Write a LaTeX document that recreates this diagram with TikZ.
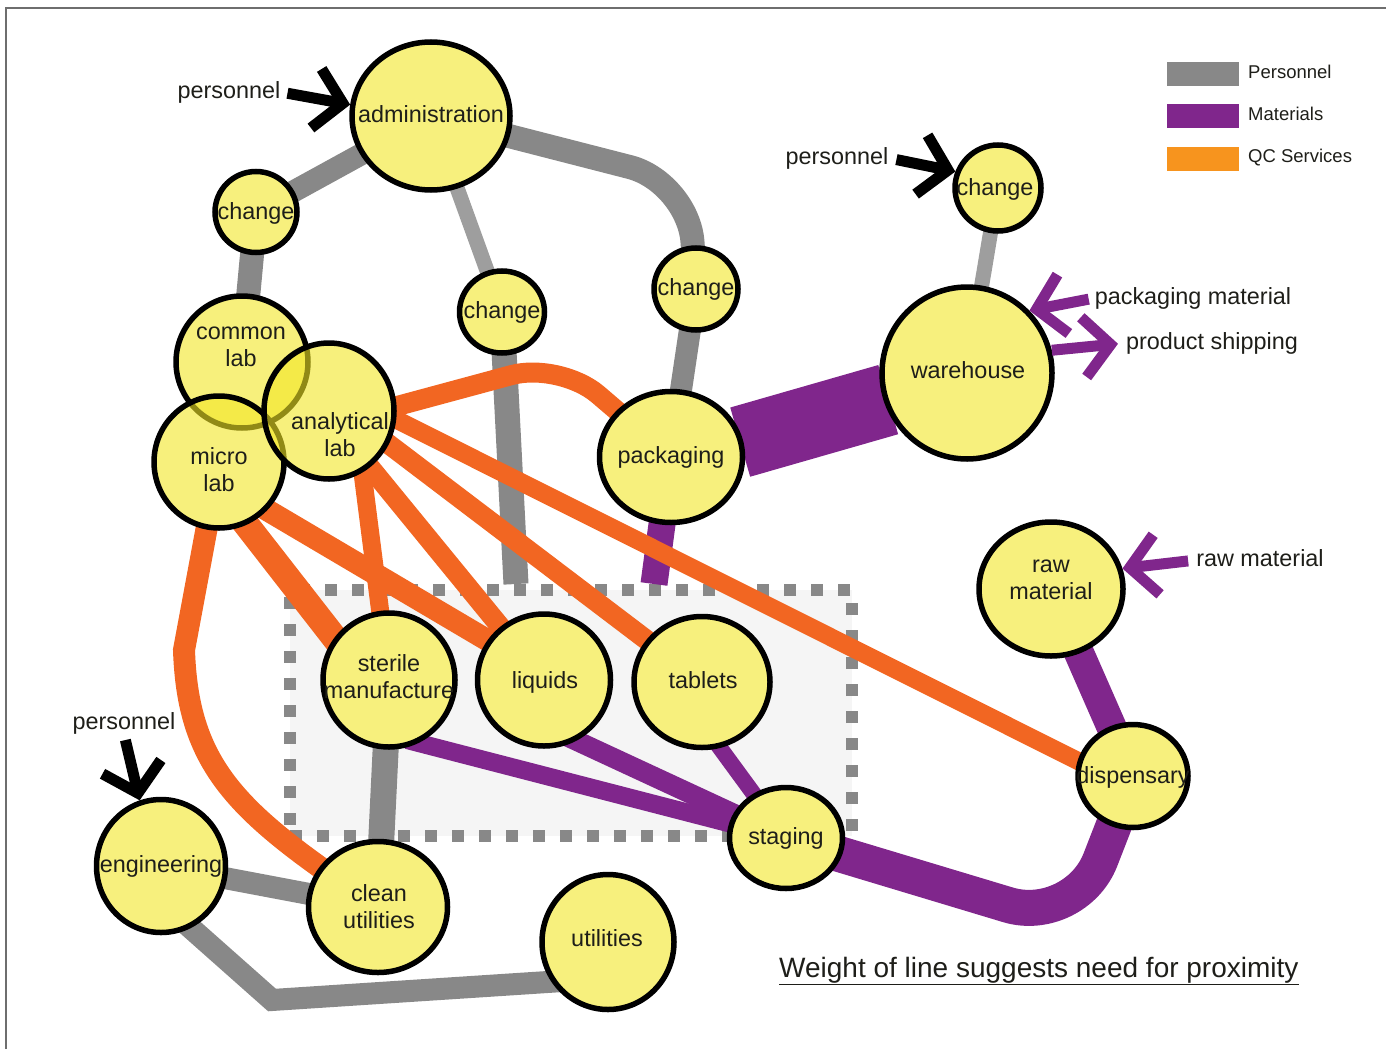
\documentclass[tikz,border=0pt]{standalone}
\usepackage{fontspec}
\setmainfont{Liberation Sans}
\usetikzlibrary{shapes.geometric,arrows.meta,calc}
\pgfdeclarelayer{lines}
\pgfdeclarelayer{underlay}
\pgfsetlayers{lines,underlay,main}

\definecolor{bubble}{RGB}{247,240,125}
\definecolor{labyel}{RGB}{242,230,38}
\definecolor{persgray}{RGB}{136,136,136}
\definecolor{litegray}{RGB}{158,158,158}
\definecolor{matpurple}{RGB}{128,38,140}
\definecolor{qcorange}{RGB}{242,102,34}
\definecolor{legorange}{RGB}{247,148,30}
\definecolor{ink}{RGB}{30,30,25}
\definecolor{frame}{RGB}{110,110,110}

\tikzset{
  bub/.style args={#1/#2}{ellipse, draw=black, line width=5.5pt, fill=bubble,
    inner sep=0pt, minimum width=#1pt, minimum height=#2pt},
  labbub/.style args={#1/#2}{bub={#1/#2}, fill=labyel, fill opacity=0.6},
  word/.style={inner sep=0pt, text=ink, font=\fontsize{23.4}{27}\selectfont, align=center},
  one/.style={text height=17pt, text depth=5pt},
  legword/.style={inner sep=0pt, text=ink, font=\fontsize{18.5}{21}\selectfont,
    text height=13.5pt, text depth=4pt, anchor=west},
  legbox/.style={inner sep=0pt, minimum width=72pt, minimum height=24pt},
  zonebox/.style={draw=persgray, line width=12pt, dash pattern=on 12pt off 15pt,
    fill=black!4, inner sep=0pt, minimum width=562pt, minimum height=246pt},
  pers/.style={draw=persgray, line width=#1pt},
  lpers/.style={draw=litegray, line width=#1pt},
  mat/.style={draw=matpurple, line width=#1pt},
  qc/.style={draw=qcorange, line width=#1pt},
  blkarrow/.style={draw=black, line width=11pt, -{Straight Barb[length=27pt,width=60pt]}},
  matarrow/.style={draw=matpurple, line width=11pt, -{Straight Barb[length=27pt,width=60pt]}},
}

\begin{document}
\begin{tikzpicture}[x=1pt,y=-1pt]
\useasboundingbox (0,0) rectangle (1386,1049);

% frame
\draw[frame, line width=1.5pt] (6,1049) -- (6,8) -- (1386,8);

% rooms
\node[bub=158/148] (adm) at (431,116) {};
\node[bub=82/81] (chL) at (256,212) {};
\node[bub=85/82] (chM) at (502,312) {};
\node[bub=84/82] (chR) at (696,289) {};
\node[bub=143/131] (pack) at (671,457) {};
\node[bub=86/86] (chT) at (998,188) {};
\node[bub=170/172] (ware) at (967,373) {};
\node[bub=144/134] (raw) at (1051,589) {};
\node[bub=110/103] (disp) at (1133,776) {};
\node[bub=113/101] (stag) at (786,838) {};
\node[bub=136/131] (tab) at (702,682) {};
\node[bub=133/132] (liq) at (544,680) {};
\node[bub=132/134] (ster) at (389,680) {};
\node[bub=129/133] (eng) at (161,866) {};
\node[bub=139/131] (clean) at (378,907) {};
\node[bub=132/135] (util) at (608,942) {};
% overlapping lab group
\node[labbub=132/132] (com) at (242,362) {};
\node[labbub=130/132] (mic) at (219,462) {};
\node[labbub=130/136] (ana) at (329,411) {};

\begin{pgfonlayer}{underlay}
  \fill[white] (com.center) ellipse (66 and 66);
  \fill[white] (mic.center) ellipse (65 and 66);
  \fill[white] (ana.center) ellipse (65 and 68);
\end{pgfonlayer}

% room names
\node[word, one] (admT) at (431,116) {administration};
\node[word, one] (chLT) at (256,213) {change};
\node[word] (comT) at (241,347) {common\\lab};
\node[word] (micT) at (219,470) {micro\\lab};
\node[word] (anaT) at (340,435) {analytical\\lab};
\node[word, one] (chMT) at (502,312) {change};
\node[word, one] (chRT) at (696,289) {change};
\node[word, one] (packT) at (671,457) {packaging};
\node[word, one] (chTT) at (995,189) {change};
\node[word, one] (wareT) at (968,372) {warehouse};
\node[word] (rawT2) at (1051,580) {raw\\material};
\node[word, one] (dispT) at (1133,777) {dispensary};
\node[word, one] (stagT) at (786,838) {staging};
\node[word, one] (tabT) at (703,682) {tablets};
\node[word, one] (liqT) at (545,682) {liquids};
\node[word] (sterT) at (389,677) {sterile\\manufacture};
\node[word, one] (engT) at (161,866) {engineering};
\node[word] (cleanT) at (379,907) {clean\\utilities};
\node[word, one] (utilT) at (607,940) {utilities};

% flows entering and leaving
\node[word, one] (persA) at (229,92) {personnel};
\node[word, one] (persB) at (837,158) {personnel};
\node[word, one] (persC) at (124,723) {personnel};
\node[word, one] (pkgT) at (1193,298) {packaging material};
\node[word, one] (shipT) at (1212,343) {product shipping};
\node[word, one] (rawT) at (1260,560) {raw material};

\draw[blkarrow, shorten <=7pt] (persA.east) -- (adm.172);
\draw[blkarrow, shorten <=8pt] (persB.east) -- (chT.159);
\draw[blkarrow, shorten <=6pt] (persC.south) -- (eng.108);
\draw[matarrow, shorten <=6pt] (pkgT.west) -- (ware.45);
\draw[matarrow, shorten >=8pt] (ware.15) -- (shipT.west);
\draw[matarrow, shorten <=8pt] (rawT.west) -- (raw.16);

% legend
\node[legbox, fill=persgray] (keyP) at (1203,74) {};
\node[legbox, fill=matpurple] (keyM) at (1203,116) {};
\node[legbox, fill=legorange] (keyQ) at (1203,159) {};
\node[legword] (keyPT) at (1248,74) {Personnel};
\node[legword] (keyMT) at (1248,116) {Materials};
\node[legword] (keyQT) at (1248,158) {QC Services};

\node[anchor=base west, inner sep=0pt, text=ink, font=\fontsize{28}{32}\selectfont]
  (cap) at (779,977) {\underline{Weight of line suggests need for proximity}};

\begin{pgfonlayer}{lines}
  % production zone
  \node[zonebox] (zone) at (571,713) {};
  \coordinate (gateP) at ($(zone.north west)+(232,0)$);
  \coordinate (gateM) at ($(zone.north west)+(370,0)$);

  % personnel
  \draw[pers=22] (adm.center) -- (chL.center);
  \draw[pers=24] (chL.center) -- (com.center);
  \draw[lpers=15] (adm.center) -- (chM.center);
  \draw[pers=24, rounded corners=60pt] (adm.center) -- (688,182) -- (chR.center);
  \draw[pers=22] (chR.center) -- (pack.center);
  \draw[pers=25] (chM.center) -- (gateP);
  \draw[lpers=15] (chT.center) -- (ware.center);
  \draw[pers=26] (ster.center) -- (clean.center);
  \draw[pers=22] (eng.center) -- (clean.center);
  \draw[pers=22] ($(eng.center)+(5,40)$) -- (272,1000) -- ($(util.center)+(-30,38)$);

  % materials
  \draw[mat=72, shorten <=72pt, shorten >=82pt] ($(pack.center)+(0,5)$) -- ($(ware.center)+(0,4)$);
  \draw[mat=27] (pack.center) -- (gateM);
  \draw[mat=30] (raw.center) -- (disp.center);
  \draw[mat=36, rounded corners=70pt] (disp.center) -- (1075,925) -- (stag.center);
  \draw[mat=18] ($(ster.center)+(18,60)$) -- (stag.center);
  \draw[mat=20] ($(liq.center)+(20,55)$) -- (stag.center);
  \draw[mat=16] ($(tab.center)+(10,55)$) -- (stag.center);

  % QC services
  \draw[qc=20, rounded corners=50pt] ($(ana.center)+(20,8)$) -- (560,362) -- (pack.center);
  \draw[qc=18] ($(ana.center)+(60,5)$) -- ($(disp.center)+(-33,-4)$);
  \draw[qc=20] ($(ana.center)+(41,19)$) -- (tab.center);
  \draw[qc=20] ($(ana.center)+(31,44)$) -- (liq.center);
  \draw[qc=18] ($(ana.center)+(32,50)$) -- (ster.center);
  \draw[qc=26] ($(mic.center)+(16,48)$) -- ($(ster.center)+(-45,-30)$);
  \draw[qc=22] ($(mic.center)+(31,38)$) -- ($(liq.center)+(-40,-30)$);
  \draw[qc=22] (mic.center) -- (184,650) .. controls (188,770) and (240,815) .. (clean.center);
\end{pgfonlayer}
\end{tikzpicture}
\end{document}
